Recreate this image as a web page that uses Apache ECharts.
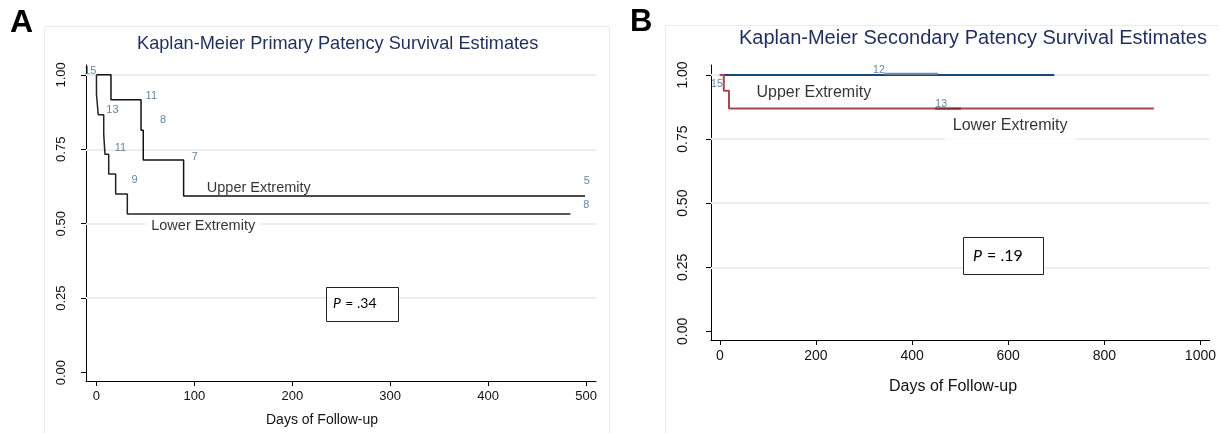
<!DOCTYPE html>
<html>
<head>
<meta charset="utf-8">
<title>Kaplan-Meier Patency Survival Estimates</title>
<script src="https://cdn.jsdelivr.net/npm/echarts@6/dist/echarts.min.js"></script>
<style>
html, body { margin: 0; padding: 0; background: #fff; }
#chart { width: 1219px; height: 433px; }
</style>
</head>
<body>
<div id="chart"></div>
<script>
// panel A - primary patency (step points: day, survival)
const daysUpperA = [0, 14.8, 45.5, 47.8, 89, 499];
const survUpperA = [1, 0.916, 0.814, 0.714, 0.593, 0.593];
const daysLowerA = [0, 0, 1.8, 7.4, 8.7, 12.5, 19.6, 31.5, 484];
const survLowerA = [1, 0.934, 0.866, 0.8, 0.733, 0.667, 0.6, 0.533, 0.533];
// numbers at risk printed on panel A
const riskTextA = ['15', '12', '11', '8', '7', '5', '13', '11', '9', '8'];
const riskDaysA = [-6.3, 13.8, 56, 68, 100.4, 500.7, 16.3, 24.5, 38.8, 500.3];
const riskSurvA = [1.012, 1.038, 0.928, 0.848, 0.724, 0.645, 0.882, 0.754, 0.648, 0.562];

// panel B - secondary patency
const daysUpperB = [0, 696];
const survUpperB = [1, 1];
const daysLowerB = [0, 8.2, 19, 903];
const survLowerB = [1, 0.939, 0.869, 0.869];
const riskTextB = ['12', '15', '13'];
const riskDaysB = [331, -6, 460.6];
const riskSurvB = [1.019, 0.966, 0.887];
// small shaded bits under the at-risk numbers
const markDaysB12 = [342, 454];
const markDaysB13 = [448, 501.5];

const groupNames = ['Upper Extremity', 'Lower Extremity'];
const groupDaysA = [165.8, 109];
const groupSurvA = [0.62, 0.494];
const groupDaysB = [195.5, 604];
const groupSurvB = [0.930, 0.803];

const ticksDaysA = [0, 100, 200, 300, 400, 500];
const ticksDaysB = [0, 200, 400, 600, 800, 1000];
const ticksSurv = [0, 0.25, 0.5, 0.75, 1];
const pValues = ['.34', '.19'];

const FONT = 'Liberation Sans, Arial, sans-serif';
const RISK_COLOR = '#3d6590';
const GRID_COLOR = '#e8eef2';

function zip(xs, ys) {
  return xs.map((x, i) => [x, ys[i]]);
}

function gridHelper(idx) {
  return {
    type: 'line', xAxisIndex: idx, yAxisIndex: idx, data: [], z: 1,
    markLine: {
      silent: true, symbol: 'none', z: 1,
      label: {show: false},
      lineStyle: {type: 'solid', color: GRID_COLOR, width: 2},
      data: ticksSurv.filter(v => v > 0).map(v => ({yAxis: v}))
    }
  };
}

function stepLine(idx, xs, ys, color, width) {
  return {
    type: 'line', xAxisIndex: idx, yAxisIndex: idx, step: 'end',
    symbol: 'none', silent: true, z: 3,
    lineStyle: {color: color, width: width},
    data: zip(xs, ys)
  };
}

function textMarks(idx, xs, ys, texts, style) {
  return {
    type: 'scatter', xAxisIndex: idx, yAxisIndex: idx, symbolSize: 0,
    silent: true, z: 4,
    label: Object.assign({show: true, position: 'inside', formatter: p => p.value[2]}, style),
    data: xs.map((x, i) => [x, ys[i], texts[i]])
  };
}

function xAxisFor(idx, min, max, ticks, size) {
  return {
    type: 'value', gridIndex: idx, min: min, max: max,
    axisLine: {show: true, onZero: false, lineStyle: {color: '#000', width: 1}},
    axisTick: {show: true, length: 5, customValues: ticks, lineStyle: {color: '#000'}},
    axisLabel: {customValues: ticks, margin: 9, fontSize: size, color: '#111', fontFamily: FONT,
      formatter: v => String(v)},
    splitLine: {show: false}
  };
}

function yAxisFor(idx, min, max, size, margin) {
  return {
    type: 'value', gridIndex: idx, min: min, max: max,
    axisLine: {show: true, onZero: false, lineStyle: {color: '#000', width: 1}},
    axisTick: {show: true, length: 5, customValues: ticksSurv, lineStyle: {color: '#000'}},
    axisLabel: {
      customValues: ticksSurv, rotate: 90, margin: margin, fontSize: size,
      color: '#111', fontFamily: FONT, formatter: v => v.toFixed(2)
    },
    splitLine: {show: false}
  };
}

function pBox(x, y, w, h, tx, ty, size, value) {
  return [
    {type: 'rect', z: 20, shape: {x: x, y: y, width: w, height: h},
      style: {fill: '#fff', stroke: '#222', lineWidth: 1}},
    {type: 'text', z: 21, x: tx, y: ty,
      style: {text: 'P', fontStyle: 'italic', fontSize: size, fontFamily: 'Lato, sans-serif',
        fill: '#000', textVerticalAlign: 'middle'}},
    {type: 'text', z: 21, x: tx + size * 0.62, y: ty,
      style: {text: ' = ' + value, fontSize: size, fontFamily: 'Lato, sans-serif',
        fill: '#000', textVerticalAlign: 'middle'}}
  ];
}

const chart = echarts.init(document.getElementById('chart'));

const option = {
  animation: false,
  backgroundColor: '#fff',
  title: [
    {text: 'Kaplan-Meier Primary Patency Survival Estimates', left: 137, top: 35, padding: 0,
      textStyle: {fontSize: 18.2, fontWeight: 'normal', color: '#1f2e5c', fontFamily: FONT}},
    {text: 'Kaplan-Meier Secondary Patency Survival Estimates', left: 739, top: 28, padding: 0,
      textStyle: {fontSize: 20, fontWeight: 'normal', color: '#1f2e5c', fontFamily: FONT}}
  ],
  grid: [
    {left: 86, top: 65, width: 510, height: 316},
    {left: 711, top: 65, width: 507, height: 275}
  ],
  xAxis: [
    xAxisFor(0, -10.7, 510.2, ticksDaysA, 13),
    xAxisFor(1, -18.4, 1019.4, ticksDaysB, 14)
  ],
  yAxis: [
    yAxisFor(0, -0.028, 1.033, 13, 18),
    yAxisFor(1, -0.0335, 1.039, 14, 21)
  ],
  graphic: [
    {type: 'rect', z: 0, shape: {x: 44.5, y: 26.5, width: 565, height: 440},
      style: {fill: 'none', stroke: '#e6edf1', lineWidth: 1}},
    {type: 'rect', z: 0, shape: {x: 665.5, y: 25.5, width: 600, height: 440},
      style: {fill: 'none', stroke: '#e6edf1', lineWidth: 1}},
    {type: 'text', z: 30, x: 10, y: 23,
      style: {text: 'A', fontSize: 32, fontWeight: 'bold', fontFamily: FONT, fill: '#000',
        textVerticalAlign: 'middle'}},
    {type: 'text', z: 30, x: 630, y: 22,
      style: {text: 'B', fontSize: 31, fontWeight: 'bold', fontFamily: FONT, fill: '#000',
        textVerticalAlign: 'middle'}},
    {type: 'text', z: 30, x: 322, y: 420,
      style: {text: 'Days of Follow-up', fontSize: 14, fontFamily: FONT, fill: '#111',
        textAlign: 'center', textVerticalAlign: 'middle'}},
    {type: 'text', z: 30, x: 953, y: 386.5,
      style: {text: 'Days of Follow-up', fontSize: 16, fontFamily: FONT, fill: '#111',
        textAlign: 'center', textVerticalAlign: 'middle'}}
  ].concat(pBox(326.5, 287.5, 72, 34, 333, 303.5, 14, pValues[0]))
   .concat(pBox(963.5, 237.5, 80, 37, 973, 255.5, 16, pValues[1])),
  series: [
    gridHelper(0),
    gridHelper(1),
    stepLine(0, daysUpperA, survUpperA, '#111', 1.5),
    stepLine(0, daysLowerA, survLowerA, '#222', 1.5),
    textMarks(0, riskDaysA, riskSurvA, riskTextA, {fontSize: 11, color: RISK_COLOR, fontFamily: FONT}),
    textMarks(0, groupDaysA.slice(0, 1), groupSurvA.slice(0, 1), groupNames.slice(0, 1),
      {fontSize: 14.5, color: '#000', fontFamily: FONT}),
    textMarks(0, groupDaysA.slice(1), groupSurvA.slice(1), groupNames.slice(1),
      {fontSize: 14.5, color: '#000', fontFamily: FONT, backgroundColor: '#fff', padding: [3, 6, 3, 6]}),
    stepLine(1, daysUpperB, survUpperB, '#1c4877', 2),
    stepLine(1, markDaysB12, [1.005, 1.005], '#6b8fb5', 2),
    stepLine(1, daysLowerB, survLowerB, '#a9464f', 2),
    stepLine(1, markDaysB13, [0.869, 0.869], '#8a2a36', 2),
    textMarks(1, riskDaysB, riskSurvB, riskTextB, {fontSize: 10.5, color: RISK_COLOR, fontFamily: FONT}),
    textMarks(1, groupDaysB.slice(0, 1), groupSurvB.slice(0, 1), groupNames.slice(0, 1),
      {fontSize: 16, color: '#000', fontFamily: FONT}),
    textMarks(1, groupDaysB.slice(1), groupSurvB.slice(1), groupNames.slice(1),
      {fontSize: 16, color: '#000', fontFamily: FONT, backgroundColor: '#fff', padding: [5, 8, 9, 8]})
  ]
};

chart.setOption(option);
</script>
</body>
</html>
